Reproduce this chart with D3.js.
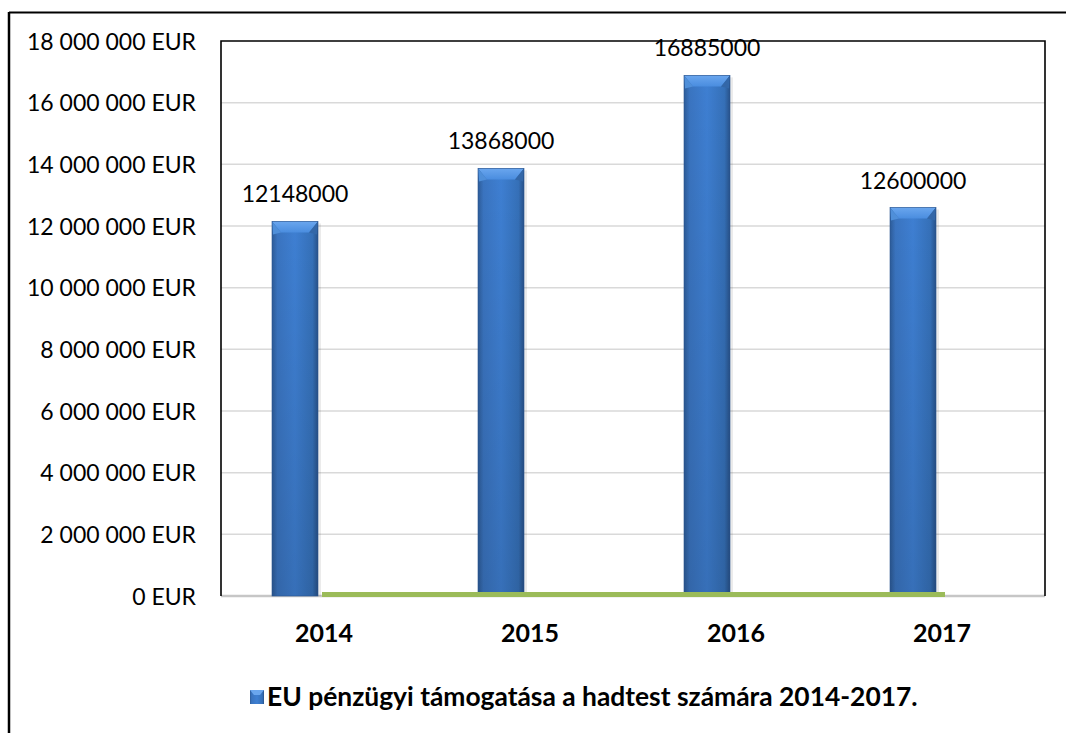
<!DOCTYPE html>
<html><head><meta charset="utf-8">
<script src="https://cdn.jsdelivr.net/npm/d3@7"></script>
<style>body{margin:0;background:#fff}svg{display:block}</style>
</head><body>
<script>
const categories = ["2014","2015","2016","2017"];
const values = [12148000, 13868000, 16885000, 12600000];
const tickValues = [0,2000000,4000000,6000000,8000000,10000000,12000000,14000000,16000000,18000000];
const seriesName = "EU pénzügyi támogatása a hadtest számára 2014-2017.";

const W=1066,H=733;
const svg=d3.select("body").append("svg").attr("width",W).attr("height",H);
const font="Lato, 'Open Sans', sans-serif";
const L=221,R=1045,T=41,B=596;

const defs=svg.append("defs");
const g1=defs.append("linearGradient").attr("id","barG").attr("x1",0).attr("x2",1).attr("y1",0).attr("y2",0);
[[0,"#2d5c99"],[0.12,"#3a74c0"],[0.5,"#3e7fd2"],[0.88,"#3570b8"],[1,"#28528a"]].forEach(s=>g1.append("stop").attr("offset",s[0]).attr("stop-color",s[1]));
const g2=defs.append("linearGradient").attr("id","topG").attr("x1",0).attr("x2",0).attr("y1",0).attr("y2",1);
[[0,"#6aa6ee"],[1,"#4a8ddf"]].forEach(s=>g2.append("stop").attr("offset",s[0]).attr("stop-color",s[1]));
const g3=defs.append("linearGradient").attr("id","vG").attr("x1",0).attr("x2",0).attr("y1",0).attr("y2",1);
[[0,"rgba(0,0,0,0)"],[1,"rgba(0,0,0,0.12)"]].forEach(s=>g3.append("stop").attr("offset",s[0]).attr("stop-color",s[1]));

// outer border
svg.append("line").attr("x1",9).attr("x2",W).attr("y1",12.5).attr("y2",12.5).attr("stroke","#000").attr("stroke-width",2);
svg.append("line").attr("x1",9).attr("x2",9).attr("y1",12).attr("y2",H).attr("stroke","#000").attr("stroke-width",2.5);

const x=d3.scaleBand().domain(categories).range([L,R]);
const y=d3.scaleLinear().domain([0,18000000]).range([B,T]);

// gridlines
svg.append("g").selectAll("line").data(tickValues.filter(v=>v>0&&v<18000000)).join("line")
 .attr("x1",L).attr("x2",R).attr("y1",d=>y(d)).attr("y2",d=>y(d)).attr("stroke","#d9d9d9").attr("stroke-width",1.5);

// y axis labels
const yAxis=d3.axisLeft(y).tickValues(tickValues).tickSize(0).tickPadding(0)
 .tickFormat(d=>d3.format(",")(d).replace(/,/g," ")+" EUR");
const ya=svg.append("g").attr("transform",`translate(196,0)`).call(yAxis);
ya.select(".domain").remove();
ya.selectAll("text").attr("font-family",font).attr("font-size",23).attr("fill","#000").attr("dy","0.35em");

// baseline axis
svg.append("line").attr("x1",L).attr("x2",R).attr("y1",B).attr("y2",B).attr("stroke","#c6c6c6").attr("stroke-width",2.5);

// bars
const bw=46, off=-29;
const bars=svg.append("g").selectAll("g").data(values).join("g");
bars.each(function(v,i){
  const g=d3.select(this);
  const cx=x(categories[i])+x.bandwidth()/2+off;
  const x0=cx-bw/2,x1=cx+bw/2,yt=y(v);
  g.append("rect").attr("x",x1).attr("y",yt+2).attr("width",3).attr("height",B-yt-2).attr("fill","rgba(0,0,0,0.08)");
  g.append("rect").attr("x",x0).attr("y",yt).attr("width",bw).attr("height",B-yt).attr("fill","url(#barG)");
  g.append("rect").attr("x",x0).attr("y",yt).attr("width",bw).attr("height",B-yt).attr("fill","url(#vG)");
  g.append("polygon").attr("points",`${x0},${yt} ${x1},${yt} ${x1-9},${yt+11} ${x0+9},${yt+11}`).attr("fill","url(#topG)");
  g.append("polygon").attr("points",`${x0},${yt} ${x0+9},${yt+11} ${x0+1},${yt+13}`).attr("fill","#4f8fd9");
  g.append("polygon").attr("points",`${x1},${yt} ${x1-9},${yt+11} ${x1-1},${yt+13}`).attr("fill","#3367a8");
  g.append("rect").attr("x",x0).attr("y",yt).attr("width",bw).attr("height",B-yt).attr("fill","none").attr("stroke","#2a5590").attr("stroke-width",0.6);
});

// green zero series line
const gx0=x(categories[0])+x.bandwidth()/2-2, gx1=x(categories[3])+x.bandwidth()/2+3;
svg.append("rect").attr("x",gx0).attr("y",B-4).attr("width",gx1-gx0).attr("height",5).attr("fill","#9bbb59");

// value labels
svg.append("g").selectAll("text").data(values).join("text")
 .attr("x",(d,i)=>x(categories[i])+x.bandwidth()/2+off).attr("y",d=>y(d)-27).attr("dy","0.35em")
 .attr("text-anchor","middle").attr("font-family",font).attr("font-size",23).attr("fill","#000").text(d=>d);

// plot frame (top, left, right)
svg.append("path").attr("d",`M${L},${B} L${L},${T} L${R},${T} L${R},${B}`).attr("fill","none").attr("stroke","#000").attr("stroke-width",1.6);

// x labels
svg.append("g").selectAll("text").data(categories).join("text")
 .attr("x",d=>x(d)+x.bandwidth()/2).attr("y",633).attr("dy","0.35em").attr("text-anchor","middle")
 .attr("font-family",font).attr("font-weight","bold").attr("font-size",25).text(d=>d);

// legend
const lg=svg.append("g");
lg.append("rect").attr("x",250).attr("y",690).attr("width",14).attr("height",14).attr("fill","url(#barG)");
lg.append("polygon").attr("points","250,690 264,690 260,695 254,695").attr("fill","#6aa6ee");
lg.append("text").attr("x",267).attr("y",697).attr("dy","0.35em").attr("font-family",font).attr("font-weight","bold").attr("font-size",26.4).text(seriesName);
</script>
</body></html>
